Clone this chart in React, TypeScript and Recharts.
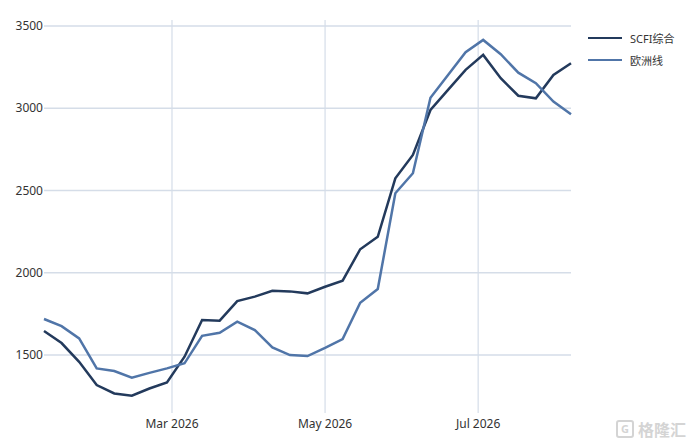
import { LineChart, Line, XAxis, YAxis, ReferenceLine } from 'recharts'

// weekly readings, Fridays
const dates = [
  '2026-01-09', '2026-01-16', '2026-01-23', '2026-01-30', '2026-02-06', '2026-02-13',
  '2026-02-20', '2026-02-27', '2026-03-06', '2026-03-13', '2026-03-20', '2026-03-27',
  '2026-04-03', '2026-04-10', '2026-04-17', '2026-04-24', '2026-05-01', '2026-05-08',
  '2026-05-15', '2026-05-22', '2026-05-29', '2026-06-05', '2026-06-12', '2026-06-19',
  '2026-06-26', '2026-07-03', '2026-07-10', '2026-07-17', '2026-07-24', '2026-07-31',
  '2026-08-07',
]

const scfi = [
  1646, 1573, 1459, 1318, 1267, 1253, 1297, 1334, 1490, 1713, 1709, 1828,
  1855, 1891, 1887, 1875, 1915, 1952, 2143, 2219, 2574, 2716, 2989, 3111,
  3233, 3324, 3182, 3076, 3060, 3202, 3273,
]

const europe = [
  1719, 1676, 1601, 1419, 1403, 1362, 1392, 1419, 1450, 1617, 1636, 1703,
  1652, 1547, 1500, 1494, 1544, 1597, 1818, 1901, 2483, 2605, 3064, 3202,
  3340, 3415, 3328, 3216, 3152, 3040, 2963,
]

const xTickDates = ['2026-03-01', '2026-05-01', '2026-07-01']
const yTicks = [1500, 2000, 2500, 3000, 3500]

const SERIES = [
  { key: 'scfi', name: 'SCFI综合', color: '#233a5c' },
  { key: 'europe', name: '欧洲线', color: '#5075a8' },
]

const MONTHS = ['Jan', 'Feb', 'Mar', 'Apr', 'May', 'Jun', 'Jul', 'Aug', 'Sep', 'Oct', 'Nov', 'Dec']

const toTs = (s: string) => new Date(s + 'T00:00:00Z').getTime()

const data = dates.map((d, i) => ({ t: toTs(d), scfi: scfi[i], europe: europe[i] }))

const FONT = '"Noto Sans", "Noto Sans CJK SC", sans-serif'
const GRID = '#d5dde8'

function fmtMonth(ts: number) {
  const d = new Date(ts)
  return `${MONTHS[d.getUTCMonth()]} ${d.getUTCFullYear()}`
}

export default function App() {
  return (
    <div style={{ position: 'absolute', left: 0, top: 0, width: 692, height: 441, background: '#fff' }}>
      <LineChart width={692} height={441} data={data} margin={{ top: 20, right: 121, bottom: 0, left: 0 }}>
        <XAxis
          dataKey="t"
          type="number"
          scale="time"
          domain={[data[0].t, data[data.length - 1].t]}
          ticks={xTickDates.map(toTs)}
          tickFormatter={fmtMonth}
          axisLine={false}
          tickLine={false}
          tickSize={0}
          tickMargin={6}
          height={28}
          tick={{ fill: '#333', fontSize: 12, fontFamily: FONT }}
        />
        <YAxis
          type="number"
          domain={[1148, 3536]}
          ticks={yTicks}
          axisLine={false}
          tickLine={false}
          tickSize={0}
          tickMargin={1}
          width={44}
          tick={{ fill: '#333', fontSize: 12, fontFamily: FONT }}
        />
        {/* grid */}
        {yTicks.map((v) => (
          <ReferenceLine key={'y' + v} y={v} stroke={GRID} strokeWidth={1.5} />
        ))}
        {xTickDates.map((d) => (
          <ReferenceLine key={'x' + d} x={toTs(d)} stroke={GRID} strokeWidth={1.2} />
        ))}
        {SERIES.map((s) => (
          <Line
            key={s.key}
            dataKey={s.key}
            name={s.name}
            stroke={s.color}
            strokeWidth={2.5}
            dot={false}
            type="linear"
            isAnimationActive={false}
          />
        ))}
      </LineChart>

      {/* legend */}
      <div style={{ position: 'absolute', left: 588, top: 27, fontFamily: FONT, fontSize: 11, color: '#333' }}>
        {SERIES.map((s) => (
          <div key={s.key} style={{ display: 'flex', alignItems: 'center', height: 22 }}>
            <span style={{ display: 'inline-block', width: 34, height: 2.5, background: s.color, marginRight: 8 }} />
            <span>{s.name}</span>
          </div>
        ))}
      </div>

      {/* watermark */}
      <div
        style={{
          position: 'absolute',
          left: 616,
          top: 417,
          display: 'flex',
          alignItems: 'center',
          fontFamily: FONT,
          fontSize: 16,
          color: '#d4d4d4',
          fontWeight: 700,
        }}
      >
        <span
          style={{
            display: 'inline-block',
            width: 14,
            height: 14,
            border: '2px solid #d4d4d4',
            borderRadius: 3,
            marginRight: 4,
            fontSize: 11,
            lineHeight: '14px',
            textAlign: 'center',
          }}
        >
          G
        </span>
        格隆汇
      </div>
    </div>
  )
}
